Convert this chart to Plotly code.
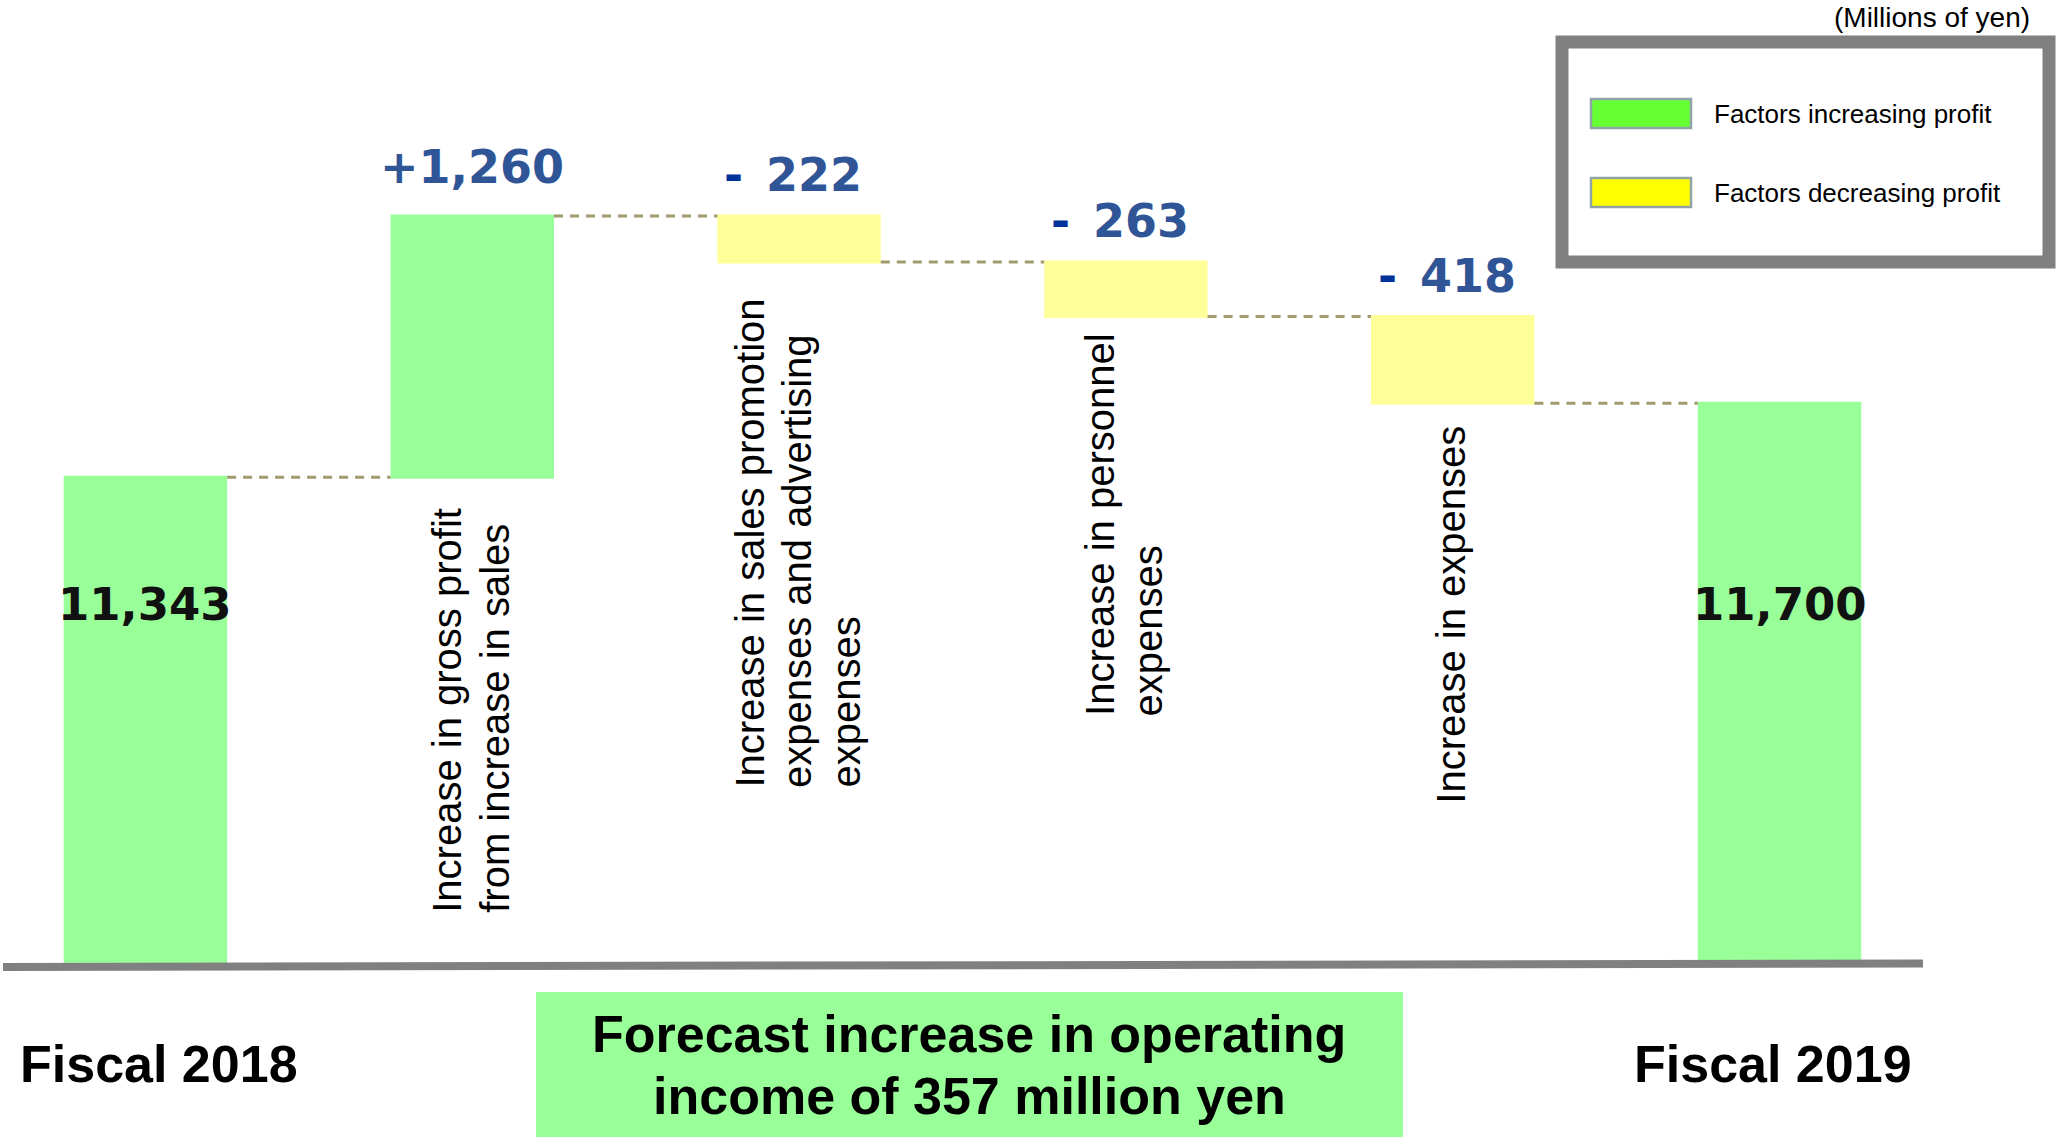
import plotly.graph_objects as go

# ---------------- data ----------------
categories = [
    "Fiscal 2018",
    "Increase in gross profit<br>from increase in sales",
    "Increase in sales promotion<br>expenses and advertising<br>expenses",
    "Increase in personnel<br>expenses",
    "Increase in expenses",
    "Fiscal 2019",
]
values = [11343, 1260, -222, -263, -418, 11700]
measures = ["absolute", "relative", "relative", "relative", "relative", "total"]
legend_labels = ["Factors increasing profit", "Factors decreasing profit"]
unit_label = "(Millions of yen)"
summary_lines = ["Forecast increase in operating", "income of 357 million yen"]
axis_floor = 9000      # value where the (broken) baseline sits
axis_ceiling = 13645

# ---------------- layout helpers ----------------
W, H = 2056, 1137
PLOT_H = 963


def px_x(p):
    return p / W


def px_y(p):
    return 1 - p / PLOT_H


GREEN = "#99FF99"
YELLOW = "#FFFF99"
LEG_GREEN = "#66FF33"
LEG_YELLOW = "#FFFF00"
BLUE = "#2F5597"
DARKBLUE = "#003399"
SANS = "Liberation Sans, Arial, sans-serif"
VERD = "DejaVu Sans, Verdana, sans-serif"

# label bottom positions (px) for the vertical category labels
label_bottom_px = {1: 915, 2: 790, 3: 718, 4: 806}
fiscal_xshift = {0: 14, 5: -7}

fig = go.Figure(
    go.Waterfall(
        x=categories,
        y=values,
        measure=measures,
        increasing=dict(marker=dict(color=GREEN, line=dict(width=0))),
        decreasing=dict(marker=dict(color=YELLOW, line=dict(width=0))),
        totals=dict(marker=dict(color=GREEN, line=dict(width=0))),
        connector=dict(mode="between",
                       line=dict(color="#A39A6E", width=3, dash="9px,7px")),
        textinfo="none",
        hoverinfo="skip",
        showlegend=False,
    )
)

annotations = []
shapes = []

# compute bar extents from the data
level = 0
for i, (v, m) in enumerate(zip(values, measures)):
    if m == "absolute":
        start, end = 0, v
        level = v
    elif m == "relative":
        start, end = level, level + v
        level = level + v
    else:
        start, end = 0, level
    top = max(start, end)

    if m in ("absolute", "total"):
        shown = end
        annotations.append(dict(
            x=i, xref="x", y=px_y(604), yref="paper",
            text=f"<b>{shown:,}</b>", showarrow=False,
            xanchor="center", yanchor="middle",
            font=dict(family=VERD, size=45, color="#111111"),
        ))
        annotations.append(dict(
            x=i, xref="x", xshift=fiscal_xshift[i], y=px_y(1064), yref="paper",
            text=f"<b>{categories[i]}</b>", showarrow=False,
            xanchor="center", yanchor="middle",
            font=dict(family=SANS, size=52, color="black"),
        ))
    else:
        if v >= 0:
            txt = f"<b>+{v:,}</b>"
            xs, ys = 0, 20
        else:
            txt = (f"<b><span style='color:{DARKBLUE}'>-</span>\u2002"
                   f"{abs(v):,}</b>")
            xs, ys = -6, 12
        annotations.append(dict(
            x=i, xref="x", xshift=xs, y=top, yref="y", yshift=ys,
            text=txt, showarrow=False,
            xanchor="center", yanchor="bottom",
            font=dict(family=VERD, size=46, color=BLUE),
        ))
        lines = categories[i].split("<br>")
        n = len(lines)
        for j, line in enumerate(lines):
            annotations.append(dict(
                x=i, xref="x", xshift=(j - (n - 1) / 2) * 48 - 2,
                y=px_y(label_bottom_px[i]), yref="paper",
                text=line, showarrow=False, textangle=-90,
                xanchor="center", yanchor="bottom",
                font=dict(family=SANS, size=40, color="black"),
            ))

# baseline (slightly tilted, as in the original drawing)
shapes.append(dict(type="line", xref="paper", yref="paper",
                   x0=px_x(3), x1=px_x(1923), y0=px_y(967), y1=px_y(963.5),
                   line=dict(color="#808080", width=8), layer="above"))

# summary box
shapes.append(dict(type="rect", xref="paper", yref="paper",
                   x0=px_x(536), x1=px_x(1403), y0=px_y(1145), y1=px_y(992),
                   fillcolor=GREEN, line=dict(width=0), layer="below"))
for k, (line, cy) in enumerate(zip(summary_lines, [1034, 1096])):
    annotations.append(dict(
        x=px_x(969), xref="paper", y=px_y(cy), yref="paper",
        text=f"<b>{line}</b>", showarrow=False,
        xanchor="center", yanchor="middle",
        font=dict(family=SANS, size=52, color="black"),
    ))

# legend box
shapes.append(dict(type="rect", xref="paper", yref="paper",
                   x0=px_x(1562), x1=px_x(2049), y0=px_y(42), y1=px_y(262),
                   fillcolor="white", line=dict(color="#808080", width=13),
                   layer="above"))
for lab, col, cy in zip(legend_labels, [LEG_GREEN, LEG_YELLOW], [113.5, 192.5]):
    shapes.append(dict(type="rect", xref="paper", yref="paper",
                       x0=px_x(1591), x1=px_x(1691),
                       y0=px_y(cy + 14.5), y1=px_y(cy - 14.5),
                       fillcolor=col, line=dict(color="#8FA3A8", width=2.5),
                       layer="above"))
    annotations.append(dict(
        x=px_x(1712), xref="paper", y=px_y(cy), yref="paper",
        text=lab, showarrow=False, xanchor="left", yanchor="middle",
        font=dict(family=SANS, size=26, color="black"),
    ))

annotations.append(dict(
    x=px_x(2032), xref="paper", y=px_y(17), yref="paper",
    text=unit_label, showarrow=False, xanchor="right", yanchor="middle",
    font=dict(family=SANS, size=28, color="black"),
))

fig.update_layout(
    width=W, height=H,
    margin=dict(l=0, r=0, t=0, b=H - PLOT_H, pad=0),
    paper_bgcolor="white", plot_bgcolor="white",
    waterfallgap=0.5,
    showlegend=False,
    xaxis=dict(visible=False, range=[-0.445, 5.846], fixedrange=True),
    yaxis=dict(visible=False, range=[axis_floor, axis_ceiling], fixedrange=True),
    annotations=annotations,
    shapes=shapes,
    font=dict(family=SANS),
    hovermode=False,
)

fig.write_html("out.html", config={"displayModeBar": False})
